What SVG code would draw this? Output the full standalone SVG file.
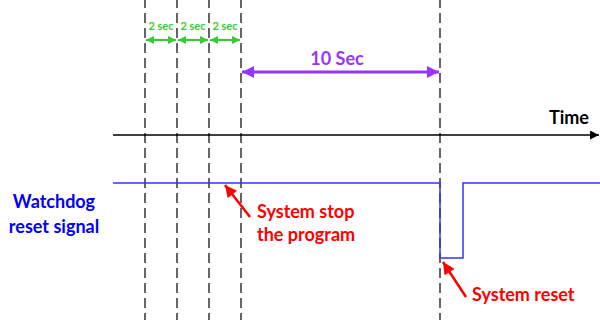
<svg xmlns="http://www.w3.org/2000/svg" width="600" height="320" viewBox="0 0 600 320">
<style>
.grid{stroke:#333;stroke-width:1.5;stroke-dasharray:10 5;fill:none}
.t{font-family:Lato,"Open Sans","Liberation Sans",sans-serif;font-weight:bold}
</style>
<defs>
<marker id="ag" viewBox="0 0 10 10" refX="10" refY="5" markerWidth="8" markerHeight="8" orient="auto-start-reverse" markerUnits="userSpaceOnUse"><path d="M0,0L10,5L0,10z" fill="#33CC33"/></marker>
<marker id="ap" viewBox="0 0 10 10" refX="10" refY="5" markerWidth="13" markerHeight="12" orient="auto-start-reverse" markerUnits="userSpaceOnUse"><path d="M0,0L10,5L0,10z" fill="#9933FF"/></marker>
<marker id="ak" viewBox="0 0 10 10" refX="10" refY="5" markerWidth="9" markerHeight="9" orient="auto" markerUnits="userSpaceOnUse"><path d="M0,0L10,5L0,10z" fill="#000"/></marker>
<marker id="ar" viewBox="0 0 10 10" refX="10" refY="5" markerWidth="13" markerHeight="12" orient="auto" markerUnits="userSpaceOnUse"><path d="M0,0L10,5L0,10z" fill="#FF0000"/></marker>
</defs>
<g id="gridlines">
<line class="grid" x1="145" y1="-2" x2="145" y2="320"/>
<line class="grid" x1="177" y1="-2" x2="177" y2="320"/>
<line class="grid" x1="209" y1="-2" x2="209" y2="320"/>
<line class="grid" x1="241" y1="-2" x2="241" y2="320"/>
<line class="grid" x1="440" y1="-2" x2="440" y2="320"/>
</g>
<g id="connectors">
<line x1="146" y1="40" x2="176" y2="40" stroke="#33CC33" stroke-width="2" marker-start="url(#ag)" marker-end="url(#ag)"/>
<line x1="178" y1="40" x2="208" y2="40" stroke="#33CC33" stroke-width="2" marker-start="url(#ag)" marker-end="url(#ag)"/>
<line x1="210" y1="40" x2="240" y2="40" stroke="#33CC33" stroke-width="2" marker-start="url(#ag)" marker-end="url(#ag)"/>
<line x1="242" y1="72" x2="439" y2="72" stroke="#9933FF" stroke-width="3" marker-start="url(#ap)" marker-end="url(#ap)"/>
<line x1="113" y1="135" x2="599" y2="135" stroke="#000" stroke-width="1.5" marker-end="url(#ak)"/>
<line x1="250" y1="217" x2="225" y2="185" stroke="#FF0000" stroke-width="2.5" marker-end="url(#ar)"/>
<line x1="466" y1="297" x2="443" y2="262" stroke="#FF0000" stroke-width="2.5" marker-end="url(#ar)"/>
</g>
<g id="signal">
<polyline points="113,183 440,183 440,258 463,258 463,183 600,183" fill="none" stroke="#3333FF" stroke-width="1.5"/>
</g>
<g id="labels">
<text class="t" x="161" y="30" font-size="11" fill="#33CC33" text-anchor="middle">2 sec</text>
<text class="t" x="193" y="30" font-size="11" fill="#33CC33" text-anchor="middle">2 sec</text>
<text class="t" x="225" y="30" font-size="11" fill="#33CC33" text-anchor="middle">2 sec</text>
<text class="t" x="337" y="65" font-size="18" fill="#9933FF" text-anchor="middle">10 Sec</text>
<text class="t" x="569" y="124" font-size="18" fill="#000" text-anchor="middle">Time</text>
<text class="t" x="54" y="208" font-size="18" fill="#0000FF" text-anchor="middle">Watchdog</text>
<text class="t" x="54" y="233" font-size="18" fill="#0000FF" text-anchor="middle">reset signal</text>
<text class="t" x="257" y="218" font-size="18" fill="#FF0000">System stop</text>
<text class="t" x="257" y="241" font-size="18" fill="#FF0000">the program</text>
<text class="t" x="472" y="301" font-size="18" fill="#FF0000">System reset</text>
</g>
</svg>
